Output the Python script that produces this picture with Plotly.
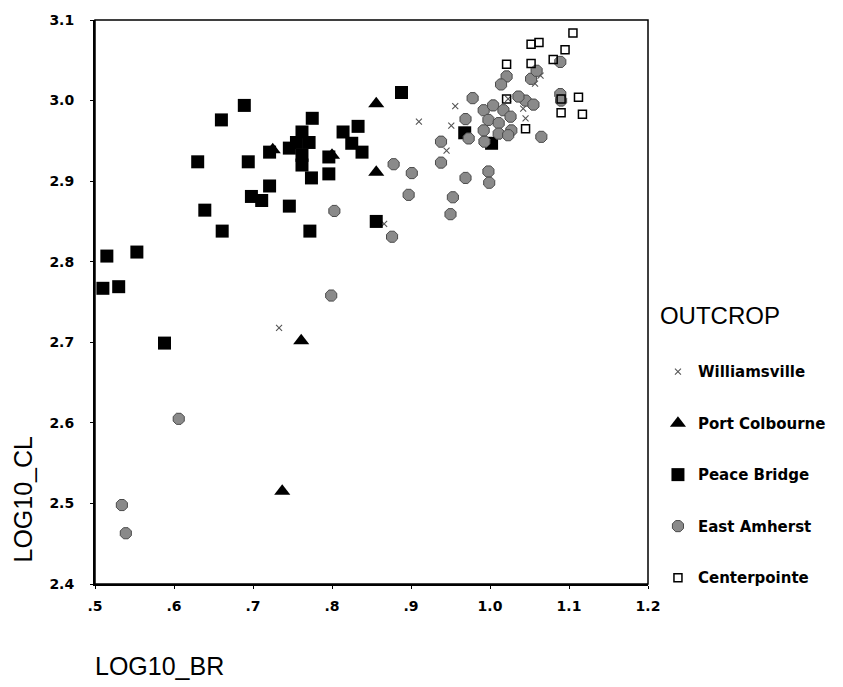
import plotly.graph_objects as go

# LOG10_BR / LOG10_CL pairs for each outcrop
williamsville_br = [0.733, 0.910, 0.956, 0.951, 0.945, 0.866, 1.057, 1.064, 1.042, 1.045, 1.023]
williamsville_cl = [2.718, 2.974, 2.993, 2.969, 2.938, 2.847, 3.021, 3.031, 2.990, 2.978, 3.002]

port_colbourne_br = [0.856, 0.725, 0.800, 0.856, 0.761, 0.737]
port_colbourne_cl = [2.996, 2.939, 2.932, 2.911, 2.702, 2.515]

peace_bridge_br = [0.689, 0.660, 0.630, 0.694, 0.721, 0.775, 0.762, 0.755, 0.746, 0.771,
                   0.762, 0.762, 0.774, 0.796, 0.796, 0.814, 0.833, 0.825, 0.838, 0.721,
                   0.698, 0.711, 0.746, 0.639, 0.661, 0.772, 0.515, 0.553, 0.510, 0.530,
                   0.588, 0.888, 0.856, 0.968, 1.002]
peace_bridge_cl = [2.994, 2.976, 2.924, 2.924, 2.936, 2.978, 2.961, 2.948, 2.941, 2.948,
                   2.932, 2.920, 2.904, 2.930, 2.909, 2.961, 2.968, 2.947, 2.936, 2.894,
                   2.881, 2.876, 2.869, 2.864, 2.838, 2.838, 2.807, 2.812, 2.767, 2.769,
                   2.699, 3.010, 2.850, 2.960, 2.947]

east_amherst_br = [0.878, 0.901, 0.897, 0.876, 0.803, 0.799, 0.606, 0.534, 0.539, 0.938,
                   0.938, 0.969, 0.953, 0.950, 0.998, 0.999, 0.969, 0.973, 0.978, 1.065,
                   0.993, 0.992, 1.004, 1.017, 0.998, 1.011, 1.026, 0.992, 1.011, 1.027,
                   1.023, 1.045, 1.055, 1.036, 1.021, 1.014, 1.052, 1.059, 1.089, 1.089,
                   1.090]
east_amherst_cl = [2.921, 2.910, 2.883, 2.831, 2.863, 2.758, 2.605, 2.498, 2.463, 2.949,
                   2.923, 2.904, 2.880, 2.859, 2.912, 2.898, 2.977, 2.953, 3.003, 2.955,
                   2.949, 2.988, 2.994, 2.988, 2.976, 2.972, 2.980, 2.963, 2.959, 2.963,
                   2.957, 3.000, 2.995, 3.005, 3.030, 3.020, 3.027, 3.037, 3.048, 3.008,
                   3.000]

centerpointe_br = [1.105, 1.052, 1.062, 1.095, 1.080, 1.021, 1.052, 1.090, 1.112, 1.090,
                   1.117, 1.045, 1.021]
centerpointe_cl = [3.084, 3.070, 3.072, 3.063, 3.051, 3.045, 3.046, 3.002, 3.004, 2.985,
                   2.983, 2.965, 3.002]

x_ticks = [0.5, 0.6, 0.7, 0.8, 0.9, 1.0, 1.1, 1.2]
x_tick_text = [".5", ".6", ".7", ".8", ".9", "1.0", "1.1", "1.2"]
y_ticks = [2.4, 2.5, 2.6, 2.7, 2.8, 2.9, 3.0, 3.1]
y_tick_text = ["2.4", "2.5", "2.6", "2.7", "2.8", "2.9", "3.0", "3.1"]

fig = go.Figure()

fig.add_trace(go.Scatter(
    x=williamsville_br, y=williamsville_cl, mode="markers", name="Williamsville",
    legendgroup="w",
    marker=dict(symbol="x-thin-open", size=6, color="#555555", line=dict(width=1.1, color="#555555")),
))
fig.add_trace(go.Scatter(
    x=port_colbourne_br, y=port_colbourne_cl, mode="markers", name="Port Colbourne",
    legendgroup="pc",
    marker=dict(symbol="triangle-up", size=14, color="black", line=dict(width=0)),
))
fig.add_trace(go.Scatter(
    x=peace_bridge_br, y=peace_bridge_cl, mode="markers", name="Peace Bridge",
    legendgroup="pb",
    marker=dict(symbol="square", size=13, color="black", line=dict(width=0)),
))
fig.add_trace(go.Scatter(
    x=east_amherst_br, y=east_amherst_cl, mode="markers", name="East Amherst",
    legendgroup="ea",
    marker=dict(symbol="octagon", size=12, color="#8a8a8a", line=dict(width=1, color="#4a4a4a")),
))
fig.add_trace(go.Scatter(
    x=centerpointe_br, y=centerpointe_cl, mode="markers", name="Centerpointe",
    legendgroup="cp",
    marker=dict(symbol="square-open", size=8, color="black", line=dict(width=1.5, color="black")),
))

tick_font = dict(family="DejaVu Sans", size=14, color="black", weight="bold")

fig.update_layout(
    width=843, height=687,
    margin=dict(l=95, r=190, t=13, b=103),
    paper_bgcolor="white", plot_bgcolor="white",
    showlegend=True,
    legend=dict(
        title=dict(text="OUTCROP<br><span style='font-size:9px'> </span>",
                   font=dict(family="Liberation Sans", size=24, color="black", weight="normal")),
        font=dict(family="DejaVu Sans", size=15, color="black", weight="bold"),
        x=1.018, xanchor="left", y=0.516, yanchor="top",
        traceorder="grouped", tracegroupgap=29,
        itemsizing="trace", bgcolor="rgba(0,0,0,0)",
    ),
    xaxis=dict(
        range=[0.5, 1.2], tickvals=x_ticks, ticktext=x_tick_text,
        showgrid=False, zeroline=False, showline=True, linewidth=2, linecolor="black",
        ticks="outside", ticklen=3, tickcolor="black", tickfont=tick_font,
        ticklabelstandoff=5,
    ),
    yaxis=dict(
        range=[2.4, 3.1], tickvals=y_ticks, ticktext=y_tick_text,
        showgrid=False, zeroline=False, showline=True, linewidth=2, linecolor="black",
        ticks="outside", ticklen=3, tickcolor="black", tickfont=tick_font,
        ticklabelstandoff=13,
    ),
    shapes=[dict(type="rect", xref="paper", yref="paper", x0=0, x1=1, y0=0, y1=1,
                 line=dict(color="black", width=1.5), layer="above")],
    annotations=[
        dict(text="LOG10_BR", xref="paper", yref="paper", x=-0.003, y=-0.145,
             xanchor="left", yanchor="middle", showarrow=False,
             font=dict(family="Liberation Sans", size=25, color="black")),
        dict(text="LOG10_CL", xref="paper", yref="paper", x=-0.13, y=0.15,
             xanchor="center", yanchor="middle", textangle=-90, showarrow=False,
             font=dict(family="Liberation Sans", size=25, color="black")),
    ],
)

fig.write_html("out.html")
